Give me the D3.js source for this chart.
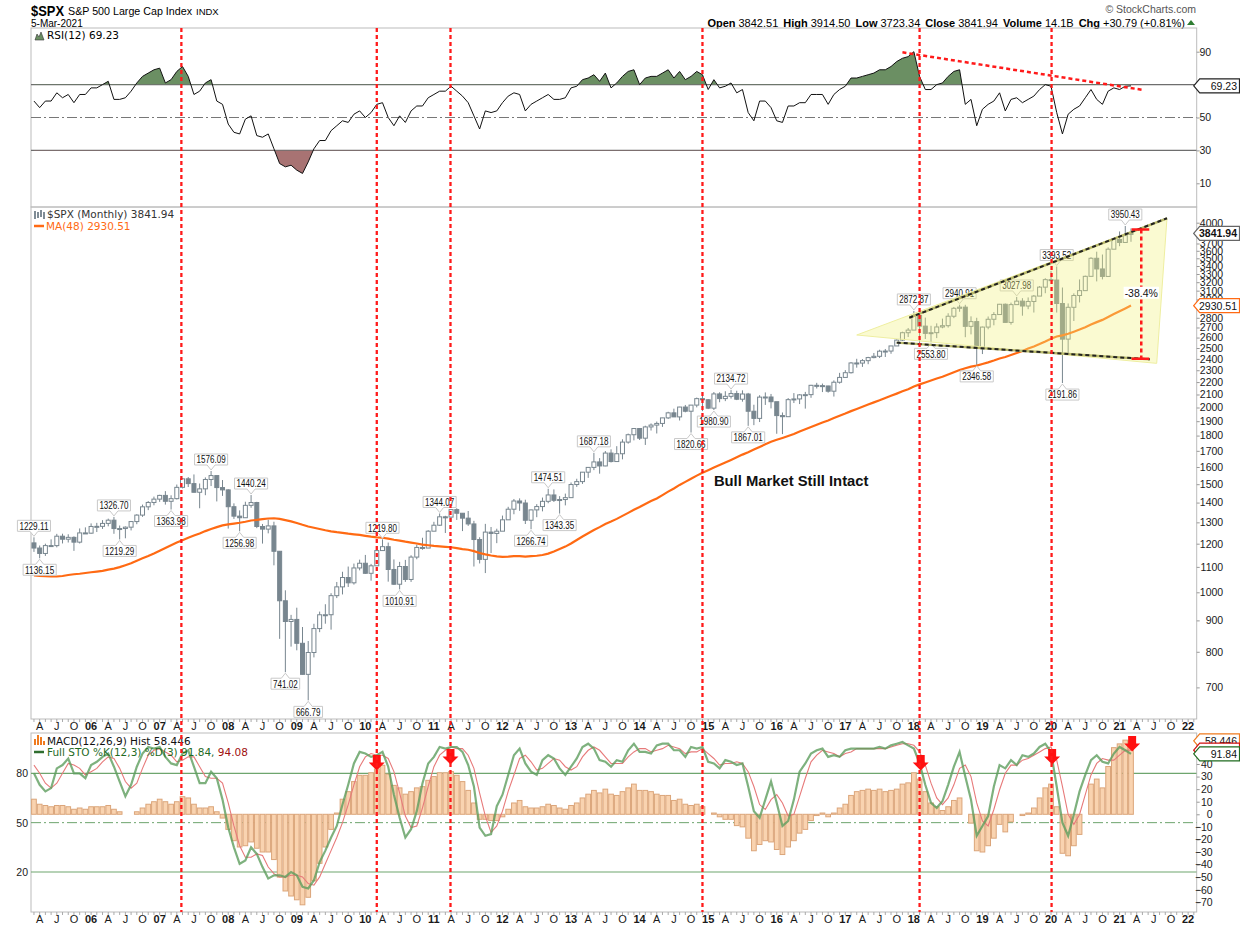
<!DOCTYPE html>
<html><head><meta charset="utf-8">
<script src="https://cdn.jsdelivr.net/npm/d3@7"></script>
<style>
body{margin:0;background:#fff}
svg{display:block;font-family:'Liberation Sans',Arial,sans-serif}
.lg{font-family:'DejaVu Sans',Verdana,sans-serif;font-size:10.5px}
.ax text{font-family:'Liberation Sans',Arial,sans-serif;font-size:10.5px;fill:#1a1a1a}
</style></head>
<body><svg id="chart" width="1240" height="928"></svg>
<script>
// monthly S&P 500, Mar 2005 .. Mar 2021
var opens = [1203.60,1180.59,1156.85,1191.50,1191.33,1234.18,1220.33,1228.81,1207.01,1249.48,
1248.29,1280.08,1280.66,1294.83,1310.61,1270.09,1270.20,1276.66,1303.82,1335.85,1377.94,1400.63,
1418.30,1438.24,1406.82,1420.86,1482.37,1530.62,1503.35,1455.27,1473.99,1526.75,1549.38,1481.14,
1468.36,1378.55,1330.63,1322.70,1385.59,1400.38,1280.00,1267.38,1282.83,1166.36,968.75,896.24,
903.25,825.88,735.09,797.87,872.81,919.14,919.32,987.48,1020.62,1057.08,1036.19,1095.63,
1115.10,1073.87,1104.49,1169.43,1186.69,1089.41,1030.71,1101.60,1049.33,1141.20,1183.26,1180.55,
1257.64,1286.12,1327.22,1325.83,1363.61,1345.20,1320.64,1292.28,1218.89,1131.42,1253.30,1246.96,
1257.60,1312.41,1365.68,1408.47,1397.91,1310.33,1362.16,1379.32,1406.58,1440.67,1412.16,1416.18,
1426.19,1498.11,1514.68,1569.19,1597.57,1630.74,1606.28,1685.73,1632.97,1681.55,1756.54,1805.81,
1848.36,1782.59,1859.45,1872.34,1883.95,1923.57,1960.23,1930.67,2003.37,1972.29,2018.05,2067.56,
2058.90,1994.99,2104.50,2067.89,2085.51,2107.39,2063.11,2103.84,1972.18,1920.03,2079.36,2080.41,
2043.94,1940.24,1932.23,2059.74,2065.30,2096.95,2098.86,2173.60,2170.95,2168.27,2126.15,2198.81,
2238.83,2278.87,2363.64,2362.72,2384.20,2411.80,2423.41,2470.30,2471.65,2519.36,2575.26,2647.58,
2673.61,2823.81,2713.83,2640.87,2648.05,2705.27,2718.37,2816.29,2901.52,2913.98,2711.74,2760.17,
2506.85,2704.10,2784.49,2834.40,2945.83,2752.06,2941.76,2980.38,2926.46,2976.74,3037.56,3140.98,
3230.78,3225.52,2954.22,2584.59,2912.43,3044.31,3100.29,3271.12,3500.31,3363.00,3269.96,3621.63,
3756.07,3714.24,3842.51];
var highs = [1229.11,1191.88,1200.08,1219.59,1245.15,1245.86,1243.13,1233.34,1270.64,1275.80,
1294.90,1297.57,1310.88,1318.16,1326.70,1284.69,1280.42,1306.74,1340.28,1389.45,1407.89,1431.81,
1441.61,1461.57,1438.89,1498.02,1535.56,1540.56,1555.90,1503.89,1538.74,1576.09,1545.79,1523.57,
1471.77,1396.02,1359.68,1404.57,1440.24,1404.05,1292.17,1313.15,1303.04,1167.03,1007.51,918.85,
943.85,877.86,832.98,888.70,930.17,956.23,996.68,1039.47,1080.15,1101.36,1113.69,1130.38,
1150.45,1112.42,1180.16,1219.80,1205.13,1131.23,1120.95,1129.24,1148.90,1196.14,1227.08,1262.60,
1302.67,1344.07,1332.28,1366.15,1370.58,1345.20,1356.48,1307.38,1229.29,1292.66,1277.55,1269.37,
1333.47,1378.04,1419.15,1422.38,1415.32,1363.46,1391.74,1426.68,1474.51,1470.96,1434.27,1448.00,
1509.94,1530.94,1570.28,1597.57,1687.18,1654.19,1698.78,1709.67,1729.86,1775.22,1813.55,1849.44,
1850.84,1867.92,1883.97,1897.28,1924.03,1968.17,1991.39,2005.04,2019.26,2018.19,2075.76,2093.55,
2064.43,2119.59,2117.52,2125.92,2134.72,2129.87,2132.82,2112.66,2020.86,2094.32,2116.48,2104.27,
2038.20,1962.96,2072.21,2111.05,2103.48,2120.55,2177.09,2193.81,2187.87,2169.60,2214.10,2277.53,
2300.99,2371.54,2400.98,2398.16,2418.71,2453.82,2484.04,2490.87,2519.44,2582.98,2657.74,2694.97,
2872.87,2835.96,2801.90,2717.49,2742.24,2791.47,2848.03,2916.50,2940.91,2939.86,2815.15,2800.18,
2708.95,2813.49,2860.31,2949.52,2954.13,2964.15,3027.98,3013.59,3021.99,3050.10,3154.26,3247.93,
3337.77,3393.52,3136.72,2954.86,3068.67,3233.13,3279.99,3514.77,3588.11,3549.85,3645.99,3760.20,
3870.90,3950.43,3914.50];
var lows = [1163.69,1136.15,1146.18,1188.30,1183.55,1201.07,1205.35,1168.20,1201.07,1246.59,
1245.74,1253.61,1268.42,1280.74,1245.34,1219.29,1224.54,1261.30,1290.93,1327.10,1360.98,1385.93,
1403.97,1389.42,1363.98,1416.37,1476.70,1484.18,1454.25,1370.60,1439.29,1489.56,1406.10,1435.65,
1270.05,1316.75,1256.98,1324.35,1373.07,1272.00,1200.44,1247.45,1106.42,839.80,741.02,815.69,
804.47,734.52,666.79,783.32,861.14,888.86,869.32,978.51,991.97,1020.18,1029.38,1085.89,
1071.59,1044.50,1105.24,1170.69,1040.78,1028.33,1010.91,1039.70,1039.70,1131.87,1173.00,1186.60,
1257.62,1282.86,1249.05,1302.66,1311.80,1258.07,1282.86,1101.54,1114.22,1074.77,1158.66,1202.37,
1258.86,1312.41,1340.03,1357.38,1291.98,1266.74,1325.41,1354.65,1396.56,1403.28,1343.35,1385.43,
1426.19,1485.01,1501.48,1536.03,1581.28,1560.33,1604.57,1627.47,1633.41,1646.47,1746.20,1767.99,
1770.45,1737.92,1834.44,1814.36,1859.79,1915.98,1930.67,1904.78,1964.04,1820.66,2001.01,1972.56,
1988.12,1980.90,2039.69,2048.38,2067.93,2056.32,2044.02,1867.01,1871.91,1893.70,2019.39,1993.26,
1812.29,1810.10,1937.09,2033.80,2025.91,1991.68,2074.02,2147.58,2119.12,2114.72,2083.79,2187.44,
2245.13,2271.65,2322.25,2328.95,2352.72,2405.70,2407.70,2417.35,2446.55,2520.40,2566.33,2605.18,
2682.36,2532.69,2585.89,2553.80,2594.62,2691.99,2698.95,2796.34,2864.12,2603.54,2631.09,2346.58,
2443.96,2681.83,2722.27,2848.63,2750.52,2728.81,2952.22,2822.12,2891.85,2855.94,3050.72,3070.33,
3214.64,2855.84,2191.86,2447.49,2766.64,2965.66,3101.17,3284.53,3209.45,3233.94,3279.74,3633.40,
3662.71,3725.62,3723.34];
var closes = [1180.59,1156.85,1191.50,1191.33,1234.18,1220.33,1228.81,1207.01,1249.48,1248.29,
1280.08,1280.66,1294.83,1310.61,1270.09,1270.20,1276.66,1303.82,1335.85,1377.94,1400.63,1418.30,
1438.24,1406.82,1420.86,1482.37,1530.62,1503.35,1455.27,1473.99,1526.75,1549.38,1481.14,1468.36,
1378.55,1330.63,1322.70,1385.59,1400.38,1280.00,1267.38,1282.83,1166.36,968.75,896.24,903.25,
825.88,735.09,797.87,872.81,919.14,919.32,987.48,1020.62,1057.08,1036.19,1095.63,1115.10,
1073.87,1104.49,1169.43,1186.69,1089.41,1030.71,1101.60,1049.33,1141.20,1183.26,1180.55,1257.64,
1286.12,1327.22,1325.83,1363.61,1345.20,1320.64,1292.28,1218.89,1131.42,1253.30,1246.96,1257.60,
1312.41,1365.68,1408.47,1397.91,1310.33,1362.16,1379.32,1406.58,1440.67,1412.16,1416.18,1426.19,
1498.11,1514.68,1569.19,1597.57,1630.74,1606.28,1685.73,1632.97,1681.55,1756.54,1805.81,1848.36,
1782.59,1859.45,1872.34,1883.95,1923.57,1960.23,1930.67,2003.37,1972.29,2018.05,2067.56,2058.90,
1994.99,2104.50,2067.89,2085.51,2107.39,2063.11,2103.84,1972.18,1920.03,2079.36,2080.41,2043.94,
1940.24,1932.23,2059.74,2065.30,2096.95,2098.86,2173.60,2170.95,2168.27,2126.15,2198.81,2238.83,
2278.87,2363.64,2362.72,2384.20,2411.80,2423.41,2470.30,2471.65,2519.36,2575.26,2647.58,2673.61,
2823.81,2713.83,2640.87,2648.05,2705.27,2718.37,2816.29,2901.52,2913.98,2711.74,2760.17,2506.85,
2704.10,2784.49,2834.40,2945.83,2752.06,2941.76,2980.38,2926.46,2976.74,3037.56,3140.98,3230.78,
3225.52,2954.22,2584.59,2912.43,3044.31,3100.29,3271.12,3500.31,3363.00,3269.96,3621.63,3756.07,
3714.24,3811.15,3841.94];
var ma48 = [1065,1063,1062,1061,1061,1063,1067,1070,1072,1075,1078,1081,1084,1089,1093,1099,1107,1115,1126,1136,1146,1157,1169,1181,
1193,1205,1216,1227,1237,1247,1258,1268,1277,1285,1290,1294,1298,1303,1309,1312,1316,1319,1320,1317,1311,1305,1297,1288,
1280,1274,1268,1262,1257,1253,1250,1246,1243,1240,1236,1232,1229,1227,1223,1218,1214,1209,1205,1201,1196,1193,1190,1188,
1186,1184,1180,1176,1173,1167,1159,1153,1148,1144,1142,1143,1145,1145,1143,1145,1147,1150,1156,1165,1176,1187,1201,1217,
1233,1248,1263,1277,1292,1304,1317,1332,1347,1363,1377,1393,1408,1422,1440,1459,1476,1496,1513,1531,1549,1566,1581,1597,
1612,1627,1643,1659,1676,1691,1708,1725,1742,1759,1772,1784,1797,1811,1828,1843,1859,1875,1891,1905,1922,1939,1955,1973,
1989,2005,2022,2039,2055,2073,2090,2107,2125,2142,2164,2181,2197,2213,2230,2245,2264,2283,2302,2317,2331,2340,2355,2369,
2385,2403,2417,2435,2453,2473,2495,2515,2537,2562,2589,2610,2621,2638,2658,2679,2702,2730,2755,2778,2808,2840,2870,2900,
2931];
var rsi12 = [60,56,60,60,65,62,64,59,64,64,68,68,70,72,61,61,62,66,71,75,77,79,80,71,
73,78,81,75,64,66,71,73,60,58,46,41,40,49,51,39,38,40,31,22,20,21,18,16,
23,31,36,36,42,45,48,47,52,54,50,53,58,59,50,45,51,47,54,57,57,62,64,66,
66,69,66,63,59,51,43,54,53,54,59,63,65,64,54,58,60,62,64,61,61,62,68,69,
73,74,76,72,77,68,71,75,78,79,70,74,75,75,77,79,74,78,73,75,78,76,67,73,
68,69,71,65,67,53,48,60,60,56,48,47,57,57,59,59,64,64,64,58,64,67,69,74,
74,75,76,77,79,79,81,84,86,87,90,75,67,67,70,71,75,78,79,58,61,45,55,58,
60,65,54,61,62,59,61,63,67,70,69,53,40,52,55,57,62,67,61,58,66,68,67,69,
69.23];
var macdHist = [12,8,7,6,7,7,6,4,5,4,6,6,6,7,4,2,0,0,2,5,8,10,12,10,
8,10,14,13,8,5,5,6,2,-3,-12,-21,-26,-25,-22,-27,-30,-30,-36,-50,-61,-65,-68,-72,
-66,-53,-39,-26,-12,1,12,18,26,31,31,33,36,39,32,23,21,16,18,21,22,27,30,33,
33,34,31,26,19,9,-4,-4,-5,-5,-2,4,9,11,6,5,5,6,8,7,5,4,7,9,
13,16,19,17,20,16,15,18,21,24,19,19,18,16,15,15,11,12,8,7,8,6,0,1,
-2,-4,-4,-9,-10,-19,-29,-24,-21,-22,-28,-32,-26,-21,-15,-12,-5,-1,1,-2,1,5,8,15,
18,19,20,19,20,18,19,20,24,25,33,28,18,9,6,3,6,11,13,0,-7,-29,-30,-25,
-19,-8,-14,-6,0,-1,1,5,13,21,24,6,-31,-33,-25,-16,0,24,28,21,38,53,56,59,
58.446];
var stoK = [80,73,69,71,83,85,89,80,80,77,85,87,90,92,84,75,66,73,84,92,96,95,96,90,
86,85,92,94,84,74,74,81,77,64,47,35,25,27,35,31,23,16,18,18,17,20,18,11,
10,15,26,33,41,48,61,73,86,93,92,90,91,93,84,67,53,41,46,57,74,86,90,96,
95,96,96,93,85,72,47,42,43,60,67,79,91,95,86,81,79,88,91,89,83,79,84,89,
96,98,95,88,87,84,88,87,94,98,93,93,92,97,98,98,94,94,90,96,95,96,87,86,
83,88,87,85,86,72,57,53,64,75,62,48,51,64,81,86,92,94,95,90,91,90,94,95,
95,95,95,95,96,95,97,98,99,97,95,86,73,62,59,63,73,84,93,78,64,42,48,54,
72,85,83,88,85,91,90,92,96,98,93,72,50,42,55,69,79,88,91,87,86,92,96,94,
91.84];
var stoD = [85,80,74,71,74,80,86,85,83,79,81,83,87,90,89,83,75,71,74,83,91,94,95,93,
91,87,88,90,90,84,78,77,77,74,62,48,36,29,29,31,30,23,19,17,17,18,18,17,
13,12,17,25,33,41,50,61,73,84,90,92,91,91,89,81,68,54,47,48,59,72,84,91,
94,96,95,95,91,83,68,54,44,48,57,69,79,89,91,87,82,83,86,89,88,84,82,84,
90,94,96,94,90,86,86,86,90,93,95,95,93,94,95,97,96,95,92,93,93,95,92,89,
85,86,86,87,86,81,72,61,58,64,67,62,54,55,66,77,87,91,94,93,92,90,92,93,
95,95,95,95,95,95,96,97,98,98,97,93,85,74,65,61,65,73,83,85,78,62,51,48,
58,70,80,85,85,88,89,91,93,95,96,88,72,55,49,55,67,79,86,89,88,88,91,94,
94.08];

// labelled swing highs / lows: [month index, value, "h" | "l"]
var swings = [[0,1229.11,"h"],[1,1136.15,"l"],[14,1326.70,"h"],[15,1219.29,"l"],[24,1363.98,"l"],
[31,1576.09,"h"],[36,1256.98,"l"],[38,1440.24,"h"],[44,741.02,"l"],[48,666.79,"l"],
[61,1219.80,"h"],[64,1010.91,"l"],[71,1344.07,"h"],[87,1266.74,"l"],[90,1474.51,"h"],
[92,1343.35,"l"],[98,1687.18,"h"],[115,1820.66,"l"],[119,1980.90,"l"],[122,2134.72,"h"],
[125,1867.01,"l"],[154,2872.87,"h"],[157,2553.80,"l"],[162,2940.91,"h"],[165,2346.58,"l"],
[172,3027.98,"h"],[179,3393.52,"h"],[180,2191.86,"l"],[191,3950.43,"h"]];

// hand-drawn annotations, in (month index, value)
var markerMonths = [25.8, 60.0, 72.9, 117.0, 155.0, 178.1];
var rsiTrend = [[152, 89.6], [194.2, 66.7]];
var wedge = [[144.0, 2625], [198.3, 4067], [196.5, 2360]];
var upperTrend = [[153.2, 2801], [198.3, 4067]];
var lowerTrend = [[151.0, 2551], [195.3, 2396]];
var drop = {i: 193.8, from: 3900, to: 2402, capFrom: 192.1, capTo: 195.2, label: "-38.4%", labelAt: 3076};
var note = {i: 119.0, at: 1490, text: "Bull Market Still Intact"};
var arrows = [[60.0, 91.1], [72.9, 94.8], [155.2, 91.1], [178.2, 94.8], [192.2, 102.7]];

// axis labels (the ones hidden behind the value boxes are left out)
var priceTicks = [700,800,900,1000,1100,1200,1300,1400,1500,1600,1700,1800,1900,2000,2100,2200,2300,2400,
  2500,2600,2700,2800,3000,3100,3200,3300,3400,3500,3600,3700,4000];
var rsiTicks = [10, 30, 50, 90];
var histTicks = [-70, -60, -50, -40, -30, -20, -10, 0, 10, 20, 30, 40];
var stoTicks = [20, 50, 80];
var quote = [["Open", "3842.51"], ["High", "3914.50"], ["Low", "3723.34"], ["Close", "3841.94"], ["Volume", "14.1B"], ["Chg", "+30.79 (+0.81%)"]];

var svg = d3.select("#chart");
var left = 31, right = 1196.7;
var rsiTop = 28, rsiBottom = 207, priceTop = 207, priceBottom = 719, macdTop = 733, macdBottom = 912;

var months = d3.timeMonth.range(new Date(2005, 2, 1), new Date(2022, 2, 1));
var x = d3.scaleBand().domain(months).range([left + 0.1, right]);
function xi(i) { return x(months[0]) + x.bandwidth() / 2 + i * x.step(); }

var yRsi = d3.scaleLinear().domain([10, 90]).range([183.3, 51.7]);
var yPrice = d3.scaleLog().domain([1000, 4000]).range([592.3, 222.7]);
var yHist = d3.scaleLinear().domain([-70, 40]).range([902.3, 764]);
var ySto = d3.scaleLinear().domain([20, 80]).range([872, 773.3]);

var defs = svg.append("defs");
function clip(id, y0, y1) {
  defs.append("clipPath").attr("id", id).append("rect")
    .attr("x", left).attr("y", y0).attr("width", right - left).attr("height", y1 - y0);
}
clip("cRsi", rsiTop, rsiBottom);
clip("cPrice", priceTop, priceBottom);
clip("cMacd", macdTop, macdBottom);
clip("cAbove", rsiTop, yRsi(70));
clip("cBelow", yRsi(30), rsiBottom);

// ---------- header
var head = svg.append("g");
head.append("text").attr("x", 31).attr("y", 15.5).attr("font-size", "15.5px").attr("font-weight", "bold")
  .attr("textLength", 33).attr("lengthAdjust", "spacingAndGlyphs").text("$SPX");
head.append("text").attr("x", 68).attr("y", 15).attr("font-size", "10.7px").text("S&P 500 Large Cap Index");
head.append("text").attr("x", 196).attr("y", 15).attr("font-size", "9.5px").text("INDX");
head.append("text").attr("x", 31).attr("y", 26.5).attr("font-size", "10px").text("5-Mar-2021");
head.append("text").attr("x", 1196).attr("y", 13).attr("text-anchor", "end").attr("font-size", "10.5px")
  .attr("fill", "#555").text("\u00a9 StockCharts.com");
var qt = head.append("text").attr("x", 1185).attr("y", 26.5).attr("text-anchor", "end").attr("font-size", "11px");
quote.forEach(function(q, k) {
  qt.append("tspan").attr("font-weight", "bold").attr("dx", k ? 5 : 0).text(q[0]);
  qt.append("tspan").attr("dx", 3).text(q[1]);
});
head.append("path").attr("d", "M1187,25 L1195,25 L1191,20 Z").attr("fill", "#2e7d32");

// ---------- frames
svg.append("g").selectAll("rect").data([[rsiTop, rsiBottom], [priceTop, priceBottom], [macdTop, macdBottom]])
  .join("rect").attr("x", left).attr("y", d => d[0]).attr("width", right - left).attr("height", d => d[1] - d[0])
  .attr("fill", "none").attr("stroke", "#bcbcbc");

// ---------- RSI panel
var rsiG = svg.append("g").attr("clip-path", "url(#cRsi)");
rsiG.selectAll("line.lv").data([70, 30]).join("line").attr("class", "lv")
  .attr("x1", left).attr("x2", right).attr("y1", d => yRsi(d)).attr("y2", d => yRsi(d))
  .attr("stroke", "#6e6e6e").attr("stroke-width", 1.2);
rsiG.append("line").attr("x1", left).attr("x2", right).attr("y1", yRsi(50)).attr("y2", yRsi(50))
  .attr("stroke", "#777").attr("stroke-dasharray", "10,3,2,3");
rsiG.append("path").datum(rsi12).attr("clip-path", "url(#cAbove)").attr("fill", "#6b8f63")
  .attr("d", d3.area().x((d, i) => xi(i)).y0(yRsi(70)).y1(d => yRsi(d)));
rsiG.append("path").datum(rsi12).attr("clip-path", "url(#cBelow)").attr("fill", "#a87373")
  .attr("d", d3.area().x((d, i) => xi(i)).y0(yRsi(30)).y1(d => yRsi(d)));
rsiG.append("path").datum(rsi12).attr("fill", "none").attr("stroke", "#111").attr("stroke-width", 1)
  .attr("d", d3.line().x((d, i) => xi(i)).y(d => yRsi(d)));
rsiG.append("path").datum(rsiTrend).attr("fill", "none").attr("stroke", "#ff1a1a").attr("stroke-width", 2.5)
  .attr("stroke-dasharray", "4,3").attr("d", d3.line().x(d => xi(d[0])).y(d => yRsi(d[1])));

var rsiAxis = svg.append("g").attr("class", "ax").attr("transform", "translate(" + right + ",0)")
  .call(d3.axisRight(yRsi).tickValues(rsiTicks).tickSize(3).tickPadding(1));
rsiAxis.select(".domain").remove();
rsiAxis.selectAll("line").attr("stroke", "#999");
rsiAxis.selectAll("text").attr("text-anchor", "end").attr("x", 14.5);

// legend
svg.append("path").attr("d", "M35,40 L37,34 L39,37 L41,32 L44,40 Z").attr("fill", "#6b8f63").attr("stroke", "#333").attr("stroke-width", 0.6);
svg.append("text").attr("class", "lg").attr("x", 47).attr("y", 39).text("RSI(12) 69.23");

// ---------- price panel
var pG = svg.append("g").attr("clip-path", "url(#cPrice)");
var candleColor = "#78868f";
var candles = pG.append("g").selectAll("g").data(closes).join("g");
candles.append("line").attr("x1", (d, i) => xi(i)).attr("x2", (d, i) => xi(i))
  .attr("y1", (d, i) => yPrice(highs[i])).attr("y2", (d, i) => yPrice(lows[i]))
  .attr("stroke", candleColor).attr("stroke-width", 1);
candles.append("rect")
  .attr("x", (d, i) => xi(i) - 2).attr("width", 4)
  .attr("y", (d, i) => yPrice(Math.max(opens[i], d)))
  .attr("height", (d, i) => Math.max(1, Math.abs(yPrice(opens[i]) - yPrice(d))))
  .attr("fill", (d, i) => d >= opens[i] ? "#fff" : candleColor)
  .attr("stroke", candleColor).attr("stroke-width", 1);

pG.append("path").datum(ma48).attr("fill", "none").attr("stroke", "#ff6a13").attr("stroke-width", 2.2)
  .attr("d", d3.line().x((d, i) => xi(i)).y(d => yPrice(d)));

// callouts on swing points
var cl = svg.append("g");
swings.forEach(function(s) {
  var cx = xi(s[0]), up = s[2] === "h";
  var tip = up ? yPrice(highs[s[0]]) - 1 : yPrice(lows[s[0]]) + 1;
  var txt = s[1].toFixed(2), h = 11;
  var w = txt.replace(".", "").length * 4.45 + 2.4;
  var by = up ? tip - 5 - h : tip + 5;
  var x0 = cx - w / 2 - 2, x1 = cx + w / 2 + 2;
  var g = cl.append("g");
  var d = up
    ? "M" + x0 + "," + by + "H" + x1 + "V" + (by + h) + "H" + (cx + 4) + "L" + cx + "," + tip + "L" + (cx - 4) + "," + (by + h) + "H" + x0 + "Z"
    : "M" + x0 + "," + by + "H" + (cx - 4) + "L" + cx + "," + tip + "L" + (cx + 4) + "," + by + "H" + x1 + "V" + (by + h) + "H" + x0 + "Z";
  g.append("path").attr("d", d).attr("fill", "#fff").attr("stroke", "#c9c9c9");
  g.append("text").attr("x", cx - w / 2).attr("y", by + 9.3).attr("font-size", "11px")
    .attr("textLength", w).attr("lengthAdjust", "spacingAndGlyphs").attr("fill", "#111").text(txt);
});

// wedge and trend lines
var aG = svg.append("g").attr("clip-path", "url(#cPrice)");
aG.append("path").datum(wedge).attr("fill", "#f2f27a").attr("fill-opacity", 0.35)
  .attr("stroke", "#eeeea0").attr("d", d3.line().x(d => xi(d[0])).y(d => yPrice(d[1])).curve(d3.curveLinearClosed));
[upperTrend, lowerTrend].forEach(function(t) {
  aG.append("path").datum(t).attr("fill", "none").attr("stroke", "#b9b96a").attr("stroke-width", 2.4)
    .attr("d", d3.line().x(d => xi(d[0])).y(d => yPrice(d[1])));
  aG.append("path").datum(t).attr("fill", "none").attr("stroke", "#222").attr("stroke-width", 2)
    .attr("stroke-dasharray", "4,3").attr("d", d3.line().x(d => xi(d[0])).y(d => yPrice(d[1])));
});
aG.append("line").attr("x1", xi(drop.i)).attr("x2", xi(drop.i)).attr("y1", yPrice(drop.from)).attr("y2", yPrice(drop.to))
  .attr("stroke", "#ff1a1a").attr("stroke-width", 2.5).attr("stroke-dasharray", "4,3");
aG.selectAll("line.cap").data([drop.from, drop.to]).join("line").attr("class", "cap")
  .attr("x1", xi(drop.capFrom)).attr("x2", xi(drop.capTo)).attr("y1", d => yPrice(d)).attr("y2", d => yPrice(d))
  .attr("stroke", "#ff1a1a").attr("stroke-width", 2.5);
var dl = aG.append("text").attr("x", xi(drop.i)).attr("y", yPrice(drop.labelAt) + 4).attr("text-anchor", "middle")
  .attr("font-size", "10.5px").attr("fill", "#111").text(drop.label);
var bb = dl.node().getBBox();
aG.insert("rect", function() { return dl.node(); }).attr("x", bb.x - 1).attr("y", bb.y).attr("width", bb.width + 2)
  .attr("height", bb.height).attr("fill", "#fff");
svg.append("text").attr("x", xi(note.i)).attr("y", yPrice(note.at)).attr("font-size", "14.8px")
  .attr("font-weight", "bold").attr("fill", "#111").text(note.text);

var pAxis = svg.append("g").attr("class", "ax").attr("transform", "translate(" + right + ",0)")
  .call(d3.axisRight(yPrice).tickValues(priceTicks).tickFormat(d3.format("d")).tickSize(3).tickPadding(1));
pAxis.select(".domain").remove();
pAxis.selectAll("line").attr("stroke", "#999");
pAxis.selectAll("text").attr("text-anchor", "end").attr("x", 26.5);

svg.append("path").attr("d", "M35,211 V219 M38,212 V218 M41,210 V217 M44,212 V219").attr("stroke", "#7f8c95").attr("stroke-width", 2);
svg.append("text").attr("class", "lg").attr("x", 47).attr("y", 218).attr("fill", "#333").text("$SPX (Monthly) 3841.94");
svg.append("line").attr("x1", 34).attr("x2", 44).attr("y1", 226).attr("y2", 226).attr("stroke", "#ff6a13").attr("stroke-width", 2.5);
svg.append("text").attr("class", "lg").attr("x", 46).attr("y", 229.5).attr("fill", "#ff6a13").text("MA(48) 2930.51");

// ---------- MACD / STO panel
var mG = svg.append("g").attr("clip-path", "url(#cMacd)");
mG.selectAll("line.sl").data([80, 20]).join("line").attr("class", "sl")
  .attr("x1", left).attr("x2", right).attr("y1", d => ySto(d)).attr("y2", d => ySto(d))
  .attr("stroke", "#6ea56e").attr("stroke-width", 1.2);
mG.append("line").attr("x1", left).attr("x2", right).attr("y1", ySto(50)).attr("y2", ySto(50))
  .attr("stroke", "#6ea56e").attr("stroke-dasharray", "10,3,2,3");
mG.append("g").selectAll("rect").data(macdHist).join("rect")
  .attr("x", (d, i) => xi(i) - x.step() / 2 + 0.5).attr("width", x.step() - 1)
  .attr("y", d => Math.min(yHist(d), yHist(0))).attr("height", d => Math.abs(yHist(d) - yHist(0)))
  .attr("fill", "#f9d3b0").attr("stroke", "#dba57a").attr("stroke-width", 1);
mG.append("path").datum(stoD).attr("fill", "none").attr("stroke", "#e77a7a").attr("stroke-width", 1.1)
  .attr("d", d3.line().x((d, i) => xi(i)).y(d => ySto(d)));
mG.append("path").datum(stoK).attr("fill", "none").attr("stroke", "#5e9e5e").attr("stroke-width", 2.2)
  .attr("stroke-opacity", 0.8).attr("d", d3.line().x((d, i) => xi(i)).y(d => ySto(d)));
mG.selectAll("path.arrow").data(arrows).join("path").attr("class", "arrow").attr("fill", "#ff1010")
  .attr("d", function(a) {
    var cx = xi(a[0]), t = ySto(a[1]);
    return "M" + (cx - 4) + "," + t + "H" + (cx + 4) + "V" + (t + 7.5) + "H" + (cx + 8) + "L" + cx + "," + (t + 15.5)
      + "L" + (cx - 8) + "," + (t + 7.5) + "H" + (cx - 4) + "Z";
  });

var hAxis = svg.append("g").attr("class", "ax").attr("transform", "translate(" + right + ",0)")
  .call(d3.axisRight(yHist).tickValues(histTicks).tickSize(3).tickPadding(1));
hAxis.select(".domain").remove();
hAxis.selectAll("line").attr("stroke", "#999");
hAxis.selectAll("text").attr("text-anchor", "end").attr("x", 16);
var sAxis = svg.append("g").attr("class", "ax").attr("transform", "translate(" + left + ",0)")
  .call(d3.axisLeft(ySto).tickValues(stoTicks).tickSize(0).tickPadding(3));
sAxis.select(".domain").remove();

svg.append("path").attr("d", "M35,745 V739 M38,745 V735 M41,745 V737 M44,745 V741").attr("stroke", "#f07b1e").attr("stroke-width", 2);
svg.append("text").attr("class", "lg").attr("x", 47).attr("y", 744.5).attr("fill", "#111").text("MACD(12,26,9) Hist 58.446");
svg.append("line").attr("x1", 34).attr("x2", 44).attr("y1", 752).attr("y2", 752).attr("stroke", "#2f6e2f").attr("stroke-width", 2.5);
var stoLg = svg.append("text").attr("class", "lg").attr("x", 47).attr("y", 755.5).attr("fill", "#1f6b1f");
stoLg.append("tspan").text("Full STO %K(12,3) %D(3) 91.84, ");
stoLg.append("tspan").attr("fill", "#a01010").text("94.08");

// ---------- date axes
[priceBottom, macdBottom].forEach(function(y0) {
  var tk = svg.append("g").attr("transform", "translate(0," + y0 + ")")
    .call(d3.axisBottom(x).tickSize(3).tickFormat(""));
  tk.select(".domain").remove();
  tk.selectAll("line").attr("stroke", "#aaa");
  var lb = svg.append("g").attr("class", "ax").attr("transform", "translate(0," + (y0 + 0.5) + ")")
    .call(d3.axisBottom(x).tickValues(months.filter(m => m.getMonth() % 3 === 0)).tickSize(0).tickPadding(3)
      .tickFormat(m => m.getMonth() === 0 ? d3.timeFormat("%y")(m) : ["A", "J", "O"][m.getMonth() / 3 - 1]));
  lb.select(".domain").remove();
  lb.selectAll("text").attr("font-weight", m => m.getMonth() === 0 ? "bold" : "normal").style("font-size", "11px");
});

// ---------- value boxes on the right axis
function valueBox(y, txt, stroke, bold) {
  var g = svg.append("g");
  g.append("path").attr("d", "M" + (right - 3) + "," + y + "L" + (right + 3) + "," + (y - 7) + "H1239.5V" + (y + 7) + "H" + (right + 3) + "Z")
    .attr("fill", "#fff").attr("stroke", stroke).attr("stroke-width", 1.2);
  if (txt) g.append("text").attr("x", 1237).attr("y", y + 4).attr("text-anchor", "end").attr("font-size", "10.5px")
    .attr("font-weight", bold ? "bold" : "normal").attr("fill", "#111").text(txt);
}
valueBox(yRsi(69.23), "69.23", "#222", false);
valueBox(yPrice(3841.94), "3841.94", "#666", true);
valueBox(yPrice(2930.51), "2930.51", "#ff6a13", false);
valueBox(yHist(58.446), "58.446", "#f07b1e", false);
valueBox(ySto(94.08), "", "#d01010", false);   // %D box, hidden under the %K box
valueBox(ySto(91.84), "91.84", "#1f6b1f", false);

// ---------- red vertical markers
svg.append("g").selectAll("line").data(markerMonths).join("line")
  .attr("x1", d => xi(d)).attr("x2", d => xi(d)).attr("y1", rsiTop).attr("y2", macdBottom)
  .attr("stroke", "#ff1a1a").attr("stroke-width", 2.3).attr("stroke-dasharray", "4,3");
</script></body></html>
